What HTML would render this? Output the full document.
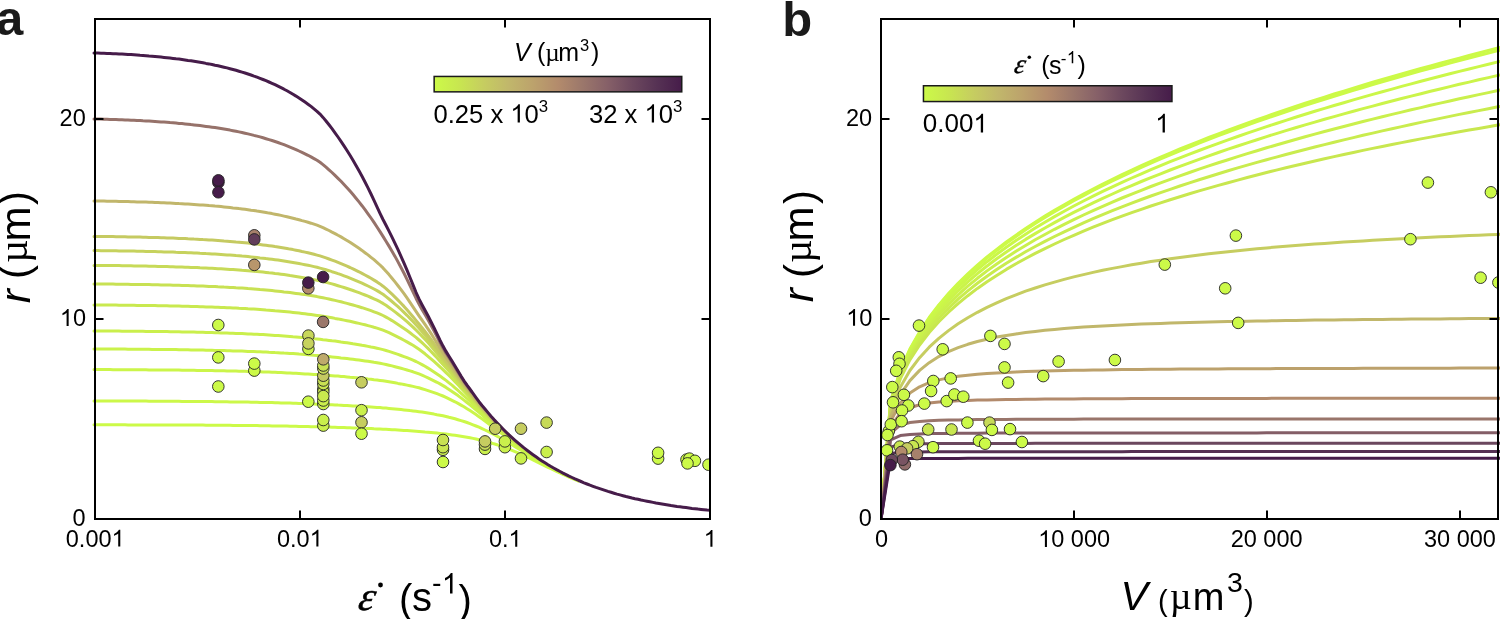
<!DOCTYPE html><html><head><meta charset="utf-8"><style>html,body{margin:0;padding:0;background:#fff;}svg{display:block}text{font-family:"Liberation Sans",sans-serif;}</style></head><body>
<svg width="1500" height="619" viewBox="0 0 1500 619">
<defs>
<clipPath id="ca"><rect x="95" y="19" width="615" height="500"/></clipPath>
<clipPath id="ca2"><rect x="92" y="19" width="618" height="500"/></clipPath>
<clipPath id="cb"><rect x="881" y="19" width="617" height="500"/></clipPath>
<clipPath id="cbc"><rect x="881" y="19" width="619" height="500"/></clipPath>
<linearGradient id="gr" x1="0" x2="1" y1="0" y2="0">
<stop offset="0.00" stop-color="#ccfa48"/>
<stop offset="0.10" stop-color="#c8e650"/>
<stop offset="0.20" stop-color="#c6cd60"/>
<stop offset="0.30" stop-color="#c1b76b"/>
<stop offset="0.40" stop-color="#bca26c"/>
<stop offset="0.50" stop-color="#b38b6c"/>
<stop offset="0.60" stop-color="#9b776b"/>
<stop offset="0.70" stop-color="#866068"/>
<stop offset="0.80" stop-color="#6c485e"/>
<stop offset="0.90" stop-color="#563254"/>
<stop offset="1.00" stop-color="#461c4a"/>
</linearGradient>
</defs>
<g clip-path="url(#ca2)" fill="none" stroke-width="3.00" stroke-linejoin="round" stroke-linecap="round">
<path d="M94.0,424.8 L95.0,424.8 L98.0,424.8 L101.0,424.8 L104.0,424.8 L107.0,424.8 L110.0,424.8 L113.0,424.8 L116.0,424.8 L119.0,424.8 L122.0,424.8 L125.0,424.8 L128.0,424.9 L131.0,424.9 L134.0,424.9 L137.0,424.9 L140.0,424.9 L143.0,424.9 L146.0,424.9 L149.0,424.9 L152.0,424.9 L155.0,424.9 L158.0,424.9 L161.0,424.9 L164.0,425.0 L167.0,425.0 L170.0,425.0 L173.0,425.0 L176.0,425.0 L179.0,425.0 L182.0,425.0 L185.0,425.0 L188.0,425.1 L191.0,425.1 L194.0,425.1 L197.0,425.1 L200.0,425.1 L203.0,425.1 L206.0,425.2 L209.0,425.2 L212.0,425.2 L215.0,425.2 L218.0,425.2 L221.0,425.3 L224.0,425.3 L227.0,425.3 L230.0,425.3 L233.0,425.4 L236.0,425.4 L239.0,425.4 L242.0,425.5 L245.0,425.5 L248.0,425.5 L251.0,425.6 L254.0,425.6 L257.0,425.6 L260.0,425.7 L263.0,425.7 L266.0,425.8 L269.0,425.8 L272.0,425.9 L275.0,425.9 L278.0,426.0 L281.0,426.0 L284.0,426.1 L287.0,426.1 L290.0,426.2 L293.0,426.2 L296.0,426.3 L299.0,426.4 L302.0,426.4 L305.0,426.5 L308.0,426.6 L311.0,426.7 L314.0,426.7 L317.0,426.8 L320.0,426.9 L323.0,427.0 L326.0,427.1 L329.0,427.1 L332.0,427.2 L335.0,427.3 L338.0,427.4 L341.0,427.5 L344.0,427.6 L347.0,427.7 L350.0,427.8 L353.0,427.9 L356.0,428.0 L359.0,428.1 L362.0,428.2 L365.0,428.4 L368.0,428.5 L371.0,428.6 L374.0,428.8 L377.0,428.9 L380.0,429.0 L383.0,429.2 L386.0,429.3 L389.0,429.5 L392.0,429.7 L395.0,429.8 L398.0,430.0 L401.0,430.2 L404.0,430.4 L407.0,430.6 L410.0,430.8 L413.0,431.0 L416.0,431.2 L419.0,431.4 L422.0,431.7 L425.0,432.0 L428.0,432.2 L431.0,432.5 L434.0,432.8 L437.0,433.1 L440.0,433.4 L443.0,433.7 L446.0,434.1 L449.0,434.5 L452.0,434.9 L455.0,435.3 L458.0,435.7 L461.0,436.2 L464.0,436.7 L467.0,437.2 L470.0,437.8 L473.0,438.4 L476.0,439.0 L479.0,439.7 L482.0,440.4 L485.0,441.2 L488.0,442.0 L491.0,442.8 L494.0,443.8 L497.0,444.7 L500.0,445.8 L503.0,446.8 L506.0,447.9 L509.0,449.1 L512.0,450.3 L515.0,451.6 L518.0,452.9 L521.0,454.3 L524.0,455.7 L527.0,457.1 L530.0,458.5 L533.0,459.9 L536.0,461.4 L539.0,462.9 L542.0,464.4 L545.0,465.8 L548.0,467.3 L551.0,468.7 L554.0,470.2 L557.0,471.6 L560.0,473.0 L563.0,474.4 L566.0,475.7 L569.0,477.1 L572.0,478.3 L575.0,479.6 L578.0,480.8 L578.5,481.1" stroke="#ccfa48"/>
<path d="M94.0,401.0 L95.0,401.0 L98.0,401.0 L101.0,401.0 L104.0,401.0 L107.0,401.0 L110.0,401.0 L113.0,401.0 L116.0,401.0 L119.0,401.1 L122.0,401.1 L125.0,401.1 L128.0,401.1 L131.0,401.1 L134.0,401.1 L137.0,401.1 L140.0,401.1 L143.0,401.1 L146.0,401.1 L149.0,401.2 L152.0,401.2 L155.0,401.2 L158.0,401.2 L161.0,401.2 L164.0,401.2 L167.0,401.3 L170.0,401.3 L173.0,401.3 L176.0,401.3 L179.0,401.3 L182.0,401.4 L185.0,401.4 L188.0,401.4 L191.0,401.4 L194.0,401.4 L197.0,401.5 L200.0,401.5 L203.0,401.5 L206.0,401.6 L209.0,401.6 L212.0,401.6 L215.0,401.7 L218.0,401.7 L221.0,401.7 L224.0,401.8 L227.0,401.8 L230.0,401.9 L233.0,401.9 L236.0,401.9 L239.0,402.0 L242.0,402.0 L245.0,402.1 L248.0,402.1 L251.0,402.2 L254.0,402.3 L257.0,402.3 L260.0,402.4 L263.0,402.4 L266.0,402.5 L269.0,402.6 L272.0,402.6 L275.0,402.7 L278.0,402.8 L281.0,402.9 L284.0,403.0 L287.0,403.1 L290.0,403.1 L293.0,403.2 L296.0,403.3 L299.0,403.4 L302.0,403.6 L305.0,403.7 L308.0,403.8 L311.0,403.9 L314.0,404.0 L317.0,404.2 L320.0,404.3 L323.0,404.4 L326.0,404.5 L329.0,404.7 L332.0,404.8 L335.0,404.9 L338.0,405.1 L341.0,405.2 L344.0,405.4 L347.0,405.5 L350.0,405.7 L353.0,405.9 L356.0,406.0 L359.0,406.2 L362.0,406.4 L365.0,406.6 L368.0,406.8 L371.0,407.0 L374.0,407.2 L377.0,407.4 L380.0,407.6 L383.0,407.9 L386.0,408.1 L389.0,408.4 L392.0,408.7 L395.0,409.0 L398.0,409.3 L401.0,409.6 L404.0,409.9 L407.0,410.2 L410.0,410.6 L413.0,410.9 L416.0,411.3 L419.0,411.7 L422.0,412.1 L425.0,412.6 L428.0,413.1 L431.0,413.6 L434.0,414.1 L437.0,414.7 L440.0,415.2 L443.0,415.8 L446.0,416.5 L449.0,417.3 L452.0,418.0 L455.0,418.8 L458.0,419.7 L461.0,420.6 L464.0,421.5 L467.0,422.5 L470.0,423.6 L473.0,424.8 L476.0,426.0 L479.0,427.2 L482.0,428.6 L485.0,430.0 L488.0,431.4 L491.0,432.9 L494.0,434.5 L497.0,436.1 L500.0,437.8 L503.0,439.5 L506.0,441.2 L509.0,443.0 L512.0,444.8 L515.0,446.6 L518.0,448.4 L521.0,450.2 L524.0,452.0 L527.0,453.9 L530.0,455.7 L533.0,457.4 L536.0,459.2 L539.0,461.0 L542.0,462.7 L545.0,464.4 L548.0,466.0 L551.0,467.6 L554.0,469.2 L557.0,470.8 L560.0,472.3 L563.0,473.8 L565.0,474.7" stroke="#ccf849"/>
<path d="M94.0,369.6 L95.0,369.6 L98.0,369.6 L101.0,369.6 L104.0,369.6 L107.0,369.6 L110.0,369.6 L113.0,369.7 L116.0,369.7 L119.0,369.7 L122.0,369.7 L125.0,369.7 L128.0,369.7 L131.0,369.7 L134.0,369.8 L137.0,369.8 L140.0,369.8 L143.0,369.8 L146.0,369.8 L149.0,369.9 L152.0,369.9 L155.0,369.9 L158.0,369.9 L161.0,370.0 L164.0,370.0 L167.0,370.0 L170.0,370.0 L173.0,370.1 L176.0,370.1 L179.0,370.1 L182.0,370.2 L185.0,370.2 L188.0,370.2 L191.0,370.3 L194.0,370.3 L197.0,370.4 L200.0,370.4 L203.0,370.5 L206.0,370.5 L209.0,370.5 L212.0,370.6 L215.0,370.7 L218.0,370.7 L221.0,370.8 L224.0,370.8 L227.0,370.9 L230.0,371.0 L233.0,371.0 L236.0,371.1 L239.0,371.2 L242.0,371.3 L245.0,371.3 L248.0,371.4 L251.0,371.5 L254.0,371.6 L257.0,371.7 L260.0,371.8 L263.0,371.9 L266.0,372.0 L269.0,372.1 L272.0,372.2 L275.0,372.3 L278.0,372.5 L281.0,372.6 L284.0,372.7 L287.0,372.9 L290.0,373.0 L293.0,373.2 L296.0,373.3 L299.0,373.5 L302.0,373.7 L305.0,373.9 L308.0,374.0 L311.0,374.2 L314.0,374.4 L317.0,374.6 L320.0,374.8 L323.0,375.1 L326.0,375.3 L329.0,375.5 L332.0,375.7 L335.0,375.9 L338.0,376.1 L341.0,376.4 L344.0,376.6 L347.0,376.9 L350.0,377.2 L353.0,377.4 L356.0,377.7 L359.0,378.0 L362.0,378.3 L365.0,378.6 L368.0,379.0 L371.0,379.3 L374.0,379.7 L377.0,380.0 L380.0,380.4 L383.0,380.8 L386.0,381.3 L389.0,381.8 L392.0,382.3 L395.0,382.8 L398.0,383.4 L401.0,383.9 L404.0,384.5 L407.0,385.1 L410.0,385.7 L413.0,386.4 L416.0,387.1 L419.0,387.8 L422.0,388.7 L425.0,389.6 L428.0,390.6 L431.0,391.6 L434.0,392.6 L437.0,393.7 L440.0,394.8 L443.0,396.0 L446.0,397.3 L449.0,398.8 L452.0,400.3 L455.0,401.8 L458.0,403.4 L461.0,405.1 L464.0,406.8 L467.0,408.7 L470.0,410.6 L473.0,412.6 L476.0,414.6 L479.0,416.7 L482.0,418.8 L485.0,421.0 L488.0,423.2 L491.0,425.5 L494.0,427.7 L497.0,430.0 L500.0,432.2 L503.0,434.5 L506.0,436.8 L509.0,439.1 L512.0,441.3 L515.0,443.5 L518.0,445.7 L521.0,447.9 L524.0,450.0 L527.0,452.1 L530.0,454.1 L533.0,456.1 L536.0,458.0 L539.0,459.9 L542.0,461.8 L545.0,463.6 L548.0,465.4 L551.0,467.1" stroke="#cbf54a"/>
<path d="M94.0,349.0 L95.0,349.0 L98.0,349.0 L101.0,349.0 L104.0,349.0 L107.0,349.0 L110.0,349.1 L113.0,349.1 L116.0,349.1 L119.0,349.1 L122.0,349.1 L125.0,349.1 L128.0,349.2 L131.0,349.2 L134.0,349.2 L137.0,349.2 L140.0,349.3 L143.0,349.3 L146.0,349.3 L149.0,349.3 L152.0,349.4 L155.0,349.4 L158.0,349.4 L161.0,349.5 L164.0,349.5 L167.0,349.5 L170.0,349.6 L173.0,349.6 L176.0,349.6 L179.0,349.7 L182.0,349.7 L185.0,349.8 L188.0,349.8 L191.0,349.9 L194.0,349.9 L197.0,350.0 L200.0,350.0 L203.0,350.1 L206.0,350.2 L209.0,350.2 L212.0,350.3 L215.0,350.4 L218.0,350.4 L221.0,350.5 L224.0,350.6 L227.0,350.7 L230.0,350.8 L233.0,350.9 L236.0,350.9 L239.0,351.0 L242.0,351.1 L245.0,351.2 L248.0,351.4 L251.0,351.5 L254.0,351.6 L257.0,351.7 L260.0,351.8 L263.0,352.0 L266.0,352.1 L269.0,352.3 L272.0,352.4 L275.0,352.6 L278.0,352.7 L281.0,352.9 L284.0,353.1 L287.0,353.2 L290.0,353.4 L293.0,353.6 L296.0,353.8 L299.0,354.1 L302.0,354.3 L305.0,354.5 L308.0,354.7 L311.0,355.0 L314.0,355.3 L317.0,355.5 L320.0,355.8 L323.0,356.1 L326.0,356.3 L329.0,356.6 L332.0,356.9 L335.0,357.2 L338.0,357.5 L341.0,357.9 L344.0,358.2 L347.0,358.5 L350.0,358.9 L353.0,359.3 L356.0,359.7 L359.0,360.1 L362.0,360.5 L365.0,360.9 L368.0,361.3 L371.0,361.8 L374.0,362.3 L377.0,362.7 L380.0,363.3 L383.0,363.9 L386.0,364.5 L389.0,365.2 L392.0,365.9 L395.0,366.7 L398.0,367.5 L401.0,368.3 L404.0,369.1 L407.0,370.0 L410.0,370.9 L413.0,371.8 L416.0,372.8 L419.0,373.9 L422.0,375.1 L425.0,376.5 L428.0,377.9 L431.0,379.3 L434.0,380.8 L437.0,382.3 L440.0,383.9 L443.0,385.6 L446.0,387.4 L449.0,389.4 L452.0,391.4 L455.0,393.5 L458.0,395.6 L461.0,397.9 L464.0,400.1 L467.0,402.5 L470.0,404.9 L473.0,407.3 L476.0,409.9 L479.0,412.4 L482.0,414.9 L485.0,417.5 L488.0,420.1 L491.0,422.7 L494.0,425.3 L497.0,427.8 L500.0,430.3 L503.0,432.8 L506.0,435.3 L509.0,437.8 L512.0,440.2 L515.0,442.5 L518.0,444.8 L521.0,447.1 L524.0,449.3 L527.0,451.5 L530.0,453.6 L533.0,455.7 L536.0,457.7 L539.0,459.6 L542.0,461.5 L543.0,462.1" stroke="#caf24b"/>
<path d="M94.0,331.0 L95.0,331.0 L98.0,331.0 L101.0,331.0 L104.0,331.0 L107.0,331.1 L110.0,331.1 L113.0,331.1 L116.0,331.1 L119.0,331.1 L122.0,331.2 L125.0,331.2 L128.0,331.2 L131.0,331.2 L134.0,331.3 L137.0,331.3 L140.0,331.3 L143.0,331.3 L146.0,331.4 L149.0,331.4 L152.0,331.4 L155.0,331.5 L158.0,331.5 L161.0,331.6 L164.0,331.6 L167.0,331.6 L170.0,331.7 L173.0,331.7 L176.0,331.8 L179.0,331.8 L182.0,331.9 L185.0,332.0 L188.0,332.0 L191.0,332.1 L194.0,332.1 L197.0,332.2 L200.0,332.3 L203.0,332.3 L206.0,332.4 L209.0,332.5 L212.0,332.6 L215.0,332.7 L218.0,332.8 L221.0,332.9 L224.0,333.0 L227.0,333.1 L230.0,333.2 L233.0,333.3 L236.0,333.4 L239.0,333.5 L242.0,333.6 L245.0,333.7 L248.0,333.9 L251.0,334.0 L254.0,334.2 L257.0,334.3 L260.0,334.5 L263.0,334.6 L266.0,334.8 L269.0,335.0 L272.0,335.2 L275.0,335.4 L278.0,335.6 L281.0,335.8 L284.0,336.0 L287.0,336.2 L290.0,336.4 L293.0,336.7 L296.0,336.9 L299.0,337.2 L302.0,337.5 L305.0,337.7 L308.0,338.0 L311.0,338.3 L314.0,338.7 L317.0,339.0 L320.0,339.3 L323.0,339.7 L326.0,340.0 L329.0,340.4 L332.0,340.8 L335.0,341.1 L338.0,341.5 L341.0,342.0 L344.0,342.4 L347.0,342.8 L350.0,343.3 L353.0,343.8 L356.0,344.2 L359.0,344.7 L362.0,345.3 L365.0,345.8 L368.0,346.4 L371.0,347.0 L374.0,347.5 L377.0,348.2 L380.0,348.9 L383.0,349.6 L386.0,350.5 L389.0,351.4 L392.0,352.4 L395.0,353.4 L398.0,354.4 L401.0,355.5 L404.0,356.6 L407.0,357.7 L410.0,358.9 L413.0,360.2 L416.0,361.5 L419.0,363.0 L422.0,364.6 L425.0,366.3 L428.0,368.1 L431.0,370.0 L434.0,371.9 L437.0,373.9 L440.0,376.0 L443.0,378.2 L446.0,380.4 L449.0,382.8 L452.0,385.2 L455.0,387.8 L458.0,390.4 L461.0,393.1 L464.0,395.8 L467.0,398.5 L470.0,401.2 L473.0,404.1 L476.0,406.9 L479.0,409.8 L482.0,412.6 L485.0,415.4 L488.0,418.2 L491.0,421.1 L494.0,423.8 L497.0,426.5 L500.0,429.2 L503.0,431.9 L506.0,434.5 L509.0,437.0 L512.0,439.5 L515.0,442.0 L518.0,444.4 L521.0,446.7 L524.0,449.0 L527.0,451.2 L530.0,453.3 L533.0,455.4 L536.0,457.5 L537.0,458.1" stroke="#caef4c"/>
<path d="M94.0,305.0 L95.0,305.0 L98.0,305.0 L101.0,305.0 L104.0,305.1 L107.0,305.1 L110.0,305.1 L113.0,305.1 L116.0,305.1 L119.0,305.2 L122.0,305.2 L125.0,305.2 L128.0,305.3 L131.0,305.3 L134.0,305.3 L137.0,305.4 L140.0,305.4 L143.0,305.4 L146.0,305.5 L149.0,305.5 L152.0,305.6 L155.0,305.6 L158.0,305.7 L161.0,305.7 L164.0,305.8 L167.0,305.8 L170.0,305.9 L173.0,306.0 L176.0,306.0 L179.0,306.1 L182.0,306.2 L185.0,306.2 L188.0,306.3 L191.0,306.4 L194.0,306.5 L197.0,306.6 L200.0,306.7 L203.0,306.8 L206.0,306.9 L209.0,307.0 L212.0,307.1 L215.0,307.2 L218.0,307.3 L221.0,307.4 L224.0,307.5 L227.0,307.7 L230.0,307.8 L233.0,307.9 L236.0,308.1 L239.0,308.3 L242.0,308.4 L245.0,308.6 L248.0,308.8 L251.0,308.9 L254.0,309.1 L257.0,309.3 L260.0,309.5 L263.0,309.7 L266.0,310.0 L269.0,310.2 L272.0,310.4 L275.0,310.7 L278.0,310.9 L281.0,311.2 L284.0,311.5 L287.0,311.8 L290.0,312.1 L293.0,312.4 L296.0,312.7 L299.0,313.0 L302.0,313.4 L305.0,313.8 L308.0,314.2 L311.0,314.6 L314.0,315.0 L317.0,315.4 L320.0,315.8 L323.0,316.3 L326.0,316.8 L329.0,317.3 L332.0,317.8 L335.0,318.4 L338.0,318.9 L341.0,319.5 L344.0,320.1 L347.0,320.7 L350.0,321.3 L353.0,322.0 L356.0,322.7 L359.0,323.4 L362.0,324.1 L365.0,324.8 L368.0,325.6 L371.0,326.4 L374.0,327.3 L377.0,328.1 L380.0,329.1 L383.0,330.2 L386.0,331.4 L389.0,332.7 L392.0,334.1 L395.0,335.6 L398.0,337.1 L401.0,338.6 L404.0,340.2 L407.0,341.9 L410.0,343.6 L413.0,345.3 L416.0,347.2 L419.0,349.3 L422.0,351.5 L425.0,353.8 L428.0,356.3 L431.0,358.8 L434.0,361.4 L437.0,364.1 L440.0,366.9 L443.0,369.7 L446.0,372.6 L449.0,375.5 L452.0,378.5 L455.0,381.6 L458.0,384.8 L461.0,388.1 L464.0,391.3 L467.0,394.4 L470.0,397.6 L473.0,400.8 L476.0,404.0 L479.0,407.3 L482.0,410.4 L485.0,413.4 L488.0,416.4 L491.0,419.5 L494.0,422.5 L497.0,425.3 L500.0,428.1 L503.0,431.0 L506.0,433.7 L509.0,436.3 L512.0,438.9 L515.0,441.5 L518.0,443.9 L521.0,446.3 L524.0,448.6 L527.0,450.9 L528.5,452.0" stroke="#c9e94f"/>
<path d="M94.0,284.0 L95.0,284.0 L98.0,284.0 L101.0,284.0 L104.0,284.1 L107.0,284.1 L110.0,284.1 L113.0,284.1 L116.0,284.2 L119.0,284.2 L122.0,284.2 L125.0,284.3 L128.0,284.3 L131.0,284.4 L134.0,284.4 L137.0,284.4 L140.0,284.5 L143.0,284.5 L146.0,284.6 L149.0,284.6 L152.0,284.7 L155.0,284.8 L158.0,284.8 L161.0,284.9 L164.0,284.9 L167.0,285.0 L170.0,285.1 L173.0,285.2 L176.0,285.2 L179.0,285.3 L182.0,285.4 L185.0,285.5 L188.0,285.6 L191.0,285.7 L194.0,285.8 L197.0,285.9 L200.0,286.0 L203.0,286.1 L206.0,286.2 L209.0,286.4 L212.0,286.5 L215.0,286.6 L218.0,286.8 L221.0,286.9 L224.0,287.1 L227.0,287.2 L230.0,287.4 L233.0,287.6 L236.0,287.8 L239.0,287.9 L242.0,288.1 L245.0,288.3 L248.0,288.6 L251.0,288.8 L254.0,289.0 L257.0,289.2 L260.0,289.5 L263.0,289.7 L266.0,290.0 L269.0,290.3 L272.0,290.6 L275.0,290.9 L278.0,291.2 L281.0,291.5 L284.0,291.9 L287.0,292.2 L290.0,292.6 L293.0,293.0 L296.0,293.4 L299.0,293.8 L302.0,294.2 L305.0,294.6 L308.0,295.1 L311.0,295.6 L314.0,296.1 L317.0,296.6 L320.0,297.2 L323.0,297.8 L326.0,298.4 L329.0,299.0 L332.0,299.7 L335.0,300.4 L338.0,301.1 L341.0,301.8 L344.0,302.6 L347.0,303.4 L350.0,304.2 L353.0,305.0 L356.0,305.9 L359.0,306.8 L362.0,307.7 L365.0,308.7 L368.0,309.7 L371.0,310.7 L374.0,311.8 L377.0,312.9 L380.0,314.1 L383.0,315.5 L386.0,317.1 L389.0,318.8 L392.0,320.6 L395.0,322.5 L398.0,324.4 L401.0,326.4 L404.0,328.5 L407.0,330.6 L410.0,332.8 L413.0,335.1 L416.0,337.4 L419.0,340.0 L422.0,342.7 L425.0,345.5 L428.0,348.4 L431.0,351.5 L434.0,354.6 L437.0,357.8 L440.0,361.2 L443.0,364.5 L446.0,367.8 L449.0,371.1 L452.0,374.5 L455.0,378.0 L458.0,381.6 L461.0,385.2 L464.0,388.8 L467.0,392.2 L470.0,395.5 L473.0,398.9 L476.0,402.4 L479.0,405.9 L482.0,409.1 L485.0,412.3 L488.0,415.5 L491.0,418.7 L494.0,421.8 L497.0,424.7 L500.0,427.6 L503.0,430.5 L506.0,433.3 L509.0,436.0 L512.0,438.6 L515.0,441.2 L518.0,443.7 L521.0,446.1 L522.5,447.3" stroke="#c8e153"/>
<path d="M94.0,265.4 L95.0,265.4 L98.0,265.4 L101.0,265.4 L104.0,265.5 L107.0,265.5 L110.0,265.5 L113.0,265.6 L116.0,265.6 L119.0,265.6 L122.0,265.7 L125.0,265.7 L128.0,265.8 L131.0,265.8 L134.0,265.9 L137.0,265.9 L140.0,266.0 L143.0,266.0 L146.0,266.1 L149.0,266.2 L152.0,266.2 L155.0,266.3 L158.0,266.4 L161.0,266.4 L164.0,266.5 L167.0,266.6 L170.0,266.7 L173.0,266.8 L176.0,266.9 L179.0,267.0 L182.0,267.1 L185.0,267.2 L188.0,267.3 L191.0,267.4 L194.0,267.5 L197.0,267.6 L200.0,267.8 L203.0,267.9 L206.0,268.0 L209.0,268.2 L212.0,268.3 L215.0,268.5 L218.0,268.7 L221.0,268.8 L224.0,269.0 L227.0,269.2 L230.0,269.4 L233.0,269.6 L236.0,269.8 L239.0,270.0 L242.0,270.3 L245.0,270.5 L248.0,270.7 L251.0,271.0 L254.0,271.3 L257.0,271.5 L260.0,271.8 L263.0,272.1 L266.0,272.4 L269.0,272.8 L272.0,273.1 L275.0,273.5 L278.0,273.8 L281.0,274.2 L284.0,274.6 L287.0,275.0 L290.0,275.5 L293.0,275.9 L296.0,276.4 L299.0,276.9 L302.0,277.4 L305.0,277.9 L308.0,278.4 L311.0,279.0 L314.0,279.6 L317.0,280.2 L320.0,280.9 L323.0,281.6 L326.0,282.3 L329.0,283.1 L332.0,283.9 L335.0,284.8 L338.0,285.7 L341.0,286.6 L344.0,287.5 L347.0,288.5 L350.0,289.5 L353.0,290.5 L356.0,291.6 L359.0,292.7 L362.0,293.8 L365.0,295.0 L368.0,296.2 L371.0,297.5 L374.0,298.8 L377.0,300.2 L380.0,301.7 L383.0,303.4 L386.0,305.3 L389.0,307.4 L392.0,309.6 L395.0,311.9 L398.0,314.2 L401.0,316.6 L404.0,319.1 L407.0,321.7 L410.0,324.4 L413.0,327.1 L416.0,330.0 L419.0,333.0 L422.0,336.1 L425.0,339.3 L428.0,342.6 L431.0,346.1 L434.0,349.7 L437.0,353.4 L440.0,357.1 L443.0,360.9 L446.0,364.5 L449.0,368.1 L452.0,371.8 L455.0,375.5 L458.0,379.4 L461.0,383.3 L464.0,387.1 L467.0,390.7 L470.0,394.2 L473.0,397.7 L476.0,401.4 L479.0,405.0 L482.0,408.3 L485.0,411.6 L488.0,414.8 L491.0,418.1 L494.0,421.3 L497.0,424.3 L500.0,427.2 L503.0,430.2 L506.0,433.0 L509.0,435.7 L512.0,438.4 L515.0,441.0 L517.0,442.7" stroke="#c7da58"/>
<path d="M94.0,250.6 L95.0,250.6 L98.0,250.6 L101.0,250.7 L104.0,250.7 L107.0,250.7 L110.0,250.8 L113.0,250.8 L116.0,250.8 L119.0,250.9 L122.0,250.9 L125.0,251.0 L128.0,251.0 L131.0,251.1 L134.0,251.1 L137.0,251.2 L140.0,251.2 L143.0,251.3 L146.0,251.4 L149.0,251.5 L152.0,251.5 L155.0,251.6 L158.0,251.7 L161.0,251.8 L164.0,251.9 L167.0,251.9 L170.0,252.0 L173.0,252.1 L176.0,252.3 L179.0,252.4 L182.0,252.5 L185.0,252.6 L188.0,252.7 L191.0,252.8 L194.0,253.0 L197.0,253.1 L200.0,253.3 L203.0,253.4 L206.0,253.6 L209.0,253.7 L212.0,253.9 L215.0,254.1 L218.0,254.3 L221.0,254.5 L224.0,254.7 L227.0,254.9 L230.0,255.1 L233.0,255.3 L236.0,255.6 L239.0,255.8 L242.0,256.1 L245.0,256.3 L248.0,256.6 L251.0,256.9 L254.0,257.2 L257.0,257.5 L260.0,257.9 L263.0,258.2 L266.0,258.6 L269.0,258.9 L272.0,259.3 L275.0,259.7 L278.0,260.1 L281.0,260.5 L284.0,261.0 L287.0,261.5 L290.0,262.0 L293.0,262.5 L296.0,263.0 L299.0,263.5 L302.0,264.1 L305.0,264.7 L308.0,265.3 L311.0,265.9 L314.0,266.6 L317.0,267.3 L320.0,268.1 L323.0,268.9 L326.0,269.8 L329.0,270.7 L332.0,271.7 L335.0,272.6 L338.0,273.7 L341.0,274.7 L344.0,275.8 L347.0,276.9 L350.0,278.1 L353.0,279.3 L356.0,280.6 L359.0,281.9 L362.0,283.2 L365.0,284.6 L368.0,286.0 L371.0,287.5 L374.0,289.0 L377.0,290.6 L380.0,292.4 L383.0,294.3 L386.0,296.6 L389.0,299.0 L392.0,301.5 L395.0,304.1 L398.0,306.7 L401.0,309.5 L404.0,312.4 L407.0,315.3 L410.0,318.4 L413.0,321.5 L416.0,324.8 L419.0,328.1 L422.0,331.6 L425.0,335.1 L428.0,338.7 L431.0,342.5 L434.0,346.3 L437.0,350.4 L440.0,354.5 L443.0,358.5 L446.0,362.4 L449.0,366.2 L452.0,370.0 L455.0,373.9 L458.0,378.0 L461.0,382.1 L464.0,386.0 L467.0,389.7 L470.0,393.3 L473.0,397.0 L476.0,400.7 L479.0,404.4 L482.0,407.8 L485.0,411.1 L488.0,414.5 L491.0,417.8 L494.0,421.0 L497.0,424.0 L500.0,427.0 L503.0,430.0 L506.0,432.8 L509.0,435.6 L512.0,438.3 L513.0,439.1" stroke="#c6d25d"/>
<path d="M94.0,236.4 L95.0,236.4 L98.0,236.4 L101.0,236.5 L104.0,236.5 L107.0,236.5 L110.0,236.6 L113.0,236.6 L116.0,236.7 L119.0,236.7 L122.0,236.8 L125.0,236.8 L128.0,236.9 L131.0,236.9 L134.0,237.0 L137.0,237.1 L140.0,237.1 L143.0,237.2 L146.0,237.3 L149.0,237.4 L152.0,237.4 L155.0,237.5 L158.0,237.6 L161.0,237.7 L164.0,237.8 L167.0,237.9 L170.0,238.0 L173.0,238.1 L176.0,238.2 L179.0,238.4 L182.0,238.5 L185.0,238.6 L188.0,238.8 L191.0,238.9 L194.0,239.1 L197.0,239.2 L200.0,239.4 L203.0,239.6 L206.0,239.7 L209.0,239.9 L212.0,240.1 L215.0,240.3 L218.0,240.5 L221.0,240.7 L224.0,241.0 L227.0,241.2 L230.0,241.4 L233.0,241.7 L236.0,242.0 L239.0,242.2 L242.0,242.5 L245.0,242.8 L248.0,243.1 L251.0,243.5 L254.0,243.8 L257.0,244.1 L260.0,244.5 L263.0,244.9 L266.0,245.3 L269.0,245.7 L272.0,246.1 L275.0,246.6 L278.0,247.0 L281.0,247.5 L284.0,248.0 L287.0,248.5 L290.0,249.1 L293.0,249.6 L296.0,250.2 L299.0,250.8 L302.0,251.5 L305.0,252.1 L308.0,252.8 L311.0,253.5 L314.0,254.3 L317.0,255.1 L320.0,255.9 L323.0,256.9 L326.0,257.9 L329.0,259.0 L332.0,260.1 L335.0,261.2 L338.0,262.4 L341.0,263.6 L344.0,264.9 L347.0,266.2 L350.0,267.5 L353.0,268.9 L356.0,270.3 L359.0,271.8 L362.0,273.4 L365.0,275.0 L368.0,276.6 L371.0,278.3 L374.0,280.1 L377.0,281.9 L380.0,283.9 L383.0,286.2 L386.0,288.7 L389.0,291.4 L392.0,294.2 L395.0,297.1 L398.0,300.1 L401.0,303.2 L404.0,306.4 L407.0,309.8 L410.0,313.2 L413.0,316.7 L416.0,320.4 L419.0,324.0 L422.0,327.7 L425.0,331.5 L428.0,335.4 L431.0,339.4 L434.0,343.6 L437.0,347.9 L440.0,352.3 L443.0,356.6 L446.0,360.7 L449.0,364.6 L452.0,368.6 L455.0,372.7 L458.0,376.9 L461.0,381.1 L464.0,385.2 L467.0,389.0 L470.0,392.6 L473.0,396.4 L476.0,400.2 L479.0,404.0 L482.0,407.5 L485.0,410.8 L488.0,414.2 L491.0,417.5 L494.0,420.8 L497.0,423.8 L500.0,426.8 L503.0,429.8 L506.0,432.7 L509.0,435.5" stroke="#c5ca61"/>
<path d="M94.0,201.0 L95.0,201.0 L98.0,201.0 L101.0,201.1 L104.0,201.1 L107.0,201.2 L110.0,201.2 L113.0,201.3 L116.0,201.3 L119.0,201.4 L122.0,201.5 L125.0,201.5 L128.0,201.6 L131.0,201.7 L134.0,201.8 L137.0,201.9 L140.0,201.9 L143.0,202.0 L146.0,202.1 L149.0,202.2 L152.0,202.3 L155.0,202.5 L158.0,202.6 L161.0,202.7 L164.0,202.8 L167.0,203.0 L170.0,203.1 L173.0,203.2 L176.0,203.4 L179.0,203.6 L182.0,203.7 L185.0,203.9 L188.0,204.1 L191.0,204.3 L194.0,204.5 L197.0,204.7 L200.0,204.9 L203.0,205.1 L206.0,205.3 L209.0,205.6 L212.0,205.8 L215.0,206.1 L218.0,206.3 L221.0,206.6 L224.0,206.9 L227.0,207.2 L230.0,207.5 L233.0,207.9 L236.0,208.2 L239.0,208.6 L242.0,208.9 L245.0,209.3 L248.0,209.7 L251.0,210.2 L254.0,210.6 L257.0,211.1 L260.0,211.5 L263.0,212.0 L266.0,212.5 L269.0,213.1 L272.0,213.6 L275.0,214.2 L278.0,214.8 L281.0,215.4 L284.0,216.1 L287.0,216.8 L290.0,217.5 L293.0,218.2 L296.0,219.0 L299.0,219.7 L302.0,220.6 L305.0,221.4 L308.0,222.3 L311.0,223.2 L314.0,224.2 L317.0,225.2 L320.0,226.4 L323.0,227.7 L326.0,229.1 L329.0,230.5 L332.0,232.1 L335.0,233.6 L338.0,235.3 L341.0,236.9 L344.0,238.7 L347.0,240.5 L350.0,242.3 L353.0,244.3 L356.0,246.3 L359.0,248.3 L362.0,250.4 L365.0,252.7 L368.0,254.9 L371.0,257.3 L374.0,259.7 L377.0,262.3 L380.0,265.0 L383.0,267.9 L386.0,271.2 L389.0,274.6 L392.0,278.2 L395.0,281.9 L398.0,285.7 L401.0,289.6 L404.0,293.7 L407.0,297.9 L410.0,302.3 L413.0,306.8 L416.0,311.4 L419.0,315.8 L422.0,320.1 L425.0,324.4 L428.0,328.8 L431.0,333.4 L434.0,338.2 L437.0,343.1 L440.0,348.1 L443.0,352.9 L446.0,357.4 L449.0,361.6 L452.0,365.9 L455.0,370.3 L458.0,374.8 L461.0,379.3 L464.0,383.6 L467.0,387.6 L470.0,391.4 L473.0,395.3 L476.0,399.3 L479.0,403.1 L482.0,406.7 L485.0,410.2 L488.0,413.6 L491.0,417.1 L494.0,420.4 L497.0,423.5 L499.5,426.0" stroke="#c1b66b"/>
<path d="M94.0,119.0 L95.0,119.0 L98.0,119.1 L101.0,119.1 L104.0,119.2 L107.0,119.3 L110.0,119.4 L113.0,119.5 L116.0,119.6 L119.0,119.7 L122.0,119.8 L125.0,119.9 L128.0,120.0 L131.0,120.2 L134.0,120.3 L137.0,120.5 L140.0,120.6 L143.0,120.8 L146.0,120.9 L149.0,121.1 L152.0,121.3 L155.0,121.5 L158.0,121.7 L161.0,121.9 L164.0,122.1 L167.0,122.3 L170.0,122.6 L173.0,122.8 L176.0,123.1 L179.0,123.4 L182.0,123.6 L185.0,123.9 L188.0,124.2 L191.0,124.6 L194.0,124.9 L197.0,125.2 L200.0,125.6 L203.0,126.0 L206.0,126.4 L209.0,126.8 L212.0,127.2 L215.0,127.6 L218.0,128.1 L221.0,128.6 L224.0,129.1 L227.0,129.6 L230.0,130.1 L233.0,130.7 L236.0,131.3 L239.0,131.9 L242.0,132.5 L245.0,133.2 L248.0,133.9 L251.0,134.6 L254.0,135.4 L257.0,136.1 L260.0,136.9 L263.0,137.8 L266.0,138.7 L269.0,139.6 L272.0,140.5 L275.0,141.5 L278.0,142.5 L281.0,143.6 L284.0,144.7 L287.0,145.9 L290.0,147.1 L293.0,148.3 L296.0,149.6 L299.0,151.0 L302.0,152.4 L305.0,153.8 L308.0,155.3 L311.0,156.9 L314.0,158.6 L317.0,160.3 L320.0,162.3 L323.0,164.6 L326.0,167.1 L329.0,169.8 L332.0,172.5 L335.0,175.4 L338.0,178.3 L341.0,181.3 L344.0,184.5 L347.0,187.7 L350.0,191.1 L353.0,194.6 L356.0,198.2 L359.0,201.9 L362.0,205.7 L365.0,209.7 L368.0,213.8 L371.0,218.0 L374.0,222.4 L377.0,227.0 L380.0,231.6 L383.0,236.4 L386.0,241.2 L389.0,246.1 L392.0,251.2 L395.0,256.4 L398.0,261.9 L401.0,267.5 L404.0,273.3 L407.0,279.3 L410.0,285.5 L413.0,291.9 L416.0,298.2 L419.0,304.1 L422.0,309.4 L425.0,314.5 L428.0,319.8 L431.0,325.2 L434.0,330.8 L437.0,336.6 L440.0,342.5 L443.0,348.1 L446.0,353.2 L449.0,357.8 L452.0,362.4 L455.0,367.2 L458.0,372.1 L461.0,377.0 L464.0,381.6 L467.0,385.8 L470.0,389.8 L471.5,391.9" stroke="#96726a"/>
<path d="M94.0,53.0 L95.0,53.0 L98.0,53.1 L101.0,53.2 L104.0,53.3 L107.0,53.4 L110.0,53.5 L113.0,53.7 L116.0,53.8 L119.0,54.0 L122.0,54.1 L125.0,54.3 L128.0,54.5 L131.0,54.6 L134.0,54.8 L137.0,55.0 L140.0,55.3 L143.0,55.5 L146.0,55.7 L149.0,56.0 L152.0,56.2 L155.0,56.5 L158.0,56.8 L161.0,57.1 L164.0,57.4 L167.0,57.7 L170.0,58.0 L173.0,58.4 L176.0,58.8 L179.0,59.1 L182.0,59.5 L185.0,59.9 L188.0,60.4 L191.0,60.8 L194.0,61.3 L197.0,61.8 L200.0,62.3 L203.0,62.8 L206.0,63.4 L209.0,63.9 L212.0,64.5 L215.0,65.2 L218.0,65.8 L221.0,66.5 L224.0,67.2 L227.0,67.9 L230.0,68.7 L233.0,69.5 L236.0,70.3 L239.0,71.2 L242.0,72.1 L245.0,73.0 L248.0,74.0 L251.0,75.0 L254.0,76.1 L257.0,77.1 L260.0,78.3 L263.0,79.5 L266.0,80.7 L269.0,82.0 L272.0,83.3 L275.0,84.7 L278.0,86.2 L281.0,87.7 L284.0,89.2 L287.0,90.8 L290.0,92.5 L293.0,94.3 L296.0,96.1 L299.0,98.0 L302.0,100.0 L305.0,102.1 L308.0,104.2 L311.0,106.4 L314.0,108.8 L317.0,111.3 L320.0,114.1 L323.0,117.4 L326.0,121.0 L329.0,124.8 L332.0,128.7 L335.0,132.8 L338.0,137.0 L341.0,141.3 L344.0,145.8 L347.0,150.5 L350.0,155.3 L353.0,160.3 L356.0,165.5 L359.0,170.8 L362.0,176.3 L365.0,182.0 L368.0,187.9 L371.0,194.0 L374.0,200.3 L377.0,206.8 L380.0,213.3 L383.0,219.5 L386.0,225.3 L389.0,231.1 L392.0,237.1 L395.0,243.3 L398.0,249.7 L401.0,256.3 L404.0,263.1 L407.0,270.2 L410.0,277.5 L413.0,284.9 L416.0,292.3 L419.0,298.9 L422.0,304.7 L425.0,310.2 L428.0,315.8 L431.0,321.7 L434.0,327.7 L437.0,333.9 L440.0,340.2 L443.0,346.1 L446.0,351.4 L449.0,356.2 L452.0,361.0 L455.0,366.0 L458.0,371.0 L461.0,376.1 L464.0,380.8 L467.0,385.1 L470.0,389.2 L473.0,393.4 L476.0,397.6 L479.0,401.7 L482.0,405.5 L485.0,409.0 L488.0,412.6 L491.0,416.2 L494.0,419.6 L497.0,422.8 L500.0,425.9 L503.0,429.0 L506.0,432.0 L509.0,434.9 L512.0,437.6 L515.0,440.3 L518.0,442.9 L521.0,445.4 L524.0,447.9 L527.0,450.2 L530.0,452.5 L533.0,454.7 L536.0,456.8 L539.0,458.9 L542.0,460.9 L545.0,462.8 L548.0,464.7 L551.0,466.5 L554.0,468.2 L557.0,469.9 L560.0,471.5 L563.0,473.1 L566.0,474.6 L569.0,476.1 L572.0,477.5 L575.0,478.9 L578.0,480.2 L581.0,481.5 L584.0,482.8 L587.0,484.0 L590.0,485.2 L593.0,486.3 L596.0,487.4 L599.0,488.4 L602.0,489.4 L605.0,490.4 L608.0,491.4 L611.0,492.3 L614.0,493.2 L617.0,494.1 L620.0,494.9 L623.0,495.7 L626.0,496.5 L629.0,497.2 L632.0,498.0 L635.0,498.7 L638.0,499.3 L641.0,500.0 L644.0,500.6 L647.0,501.2 L650.0,501.8 L653.0,502.4 L656.0,503.0 L659.0,503.5 L662.0,504.0 L665.0,504.5 L668.0,505.0 L671.0,505.5 L674.0,505.9 L677.0,506.4 L680.0,506.8 L683.0,507.2 L686.0,507.6 L689.0,508.0 L692.0,508.4 L695.0,508.7 L698.0,509.1 L701.0,509.4 L704.0,509.7 L707.0,510.0 L710.0,510.2" stroke="#461c4a"/>
</g>
<g clip-path="url(#cbc)" fill="none" stroke-width="3.00" stroke-linejoin="round">
<path d="M881.0,519.0 L890.6,401.1 L900.3,370.5 L909.9,349.0 L919.6,332.0 L929.2,317.5 L938.8,304.9 L948.5,293.6 L958.1,283.4 L967.8,273.9 L977.4,265.2 L987.0,257.0 L996.7,249.3 L1006.3,242.0 L1016.0,235.1 L1025.6,228.5 L1035.2,222.2 L1044.9,216.1 L1054.5,210.3 L1064.2,204.7 L1073.8,199.3 L1083.5,194.0 L1093.1,189.0 L1102.7,184.0 L1112.4,179.3 L1122.0,174.6 L1131.7,170.1 L1141.3,165.7 L1150.9,161.4 L1160.6,157.2 L1170.2,153.1 L1179.9,149.0 L1189.5,145.1 L1199.1,141.3 L1208.8,137.5 L1218.4,133.8 L1228.1,130.1 L1237.7,126.6 L1247.3,123.1 L1257.0,119.6 L1266.6,116.3 L1276.3,112.9 L1285.9,109.7 L1295.5,106.4 L1305.2,103.3 L1314.8,100.2 L1324.5,97.1 L1334.1,94.0 L1343.8,91.1 L1353.4,88.1 L1363.0,85.2 L1372.7,82.3 L1382.3,79.5 L1392.0,76.7 L1401.6,73.9 L1411.2,71.2 L1420.9,68.5 L1430.5,65.9 L1440.2,63.2 L1449.8,60.6 L1459.4,58.1 L1469.1,55.5 L1478.7,53.0 L1488.4,50.5 L1498.0,48.0 L1507.6,45.6 L1517.3,43.2" stroke="#ccfa48"/>
<path d="M881.0,519.0 L890.6,401.6 L900.3,371.1 L909.9,349.7 L919.6,332.7 L929.2,318.3 L938.8,305.8 L948.5,294.6 L958.1,284.4 L967.8,275.0 L977.4,266.3 L987.0,258.1 L996.7,250.5 L1006.3,243.2 L1016.0,236.4 L1025.6,229.8 L1035.2,223.5 L1044.9,217.5 L1054.5,211.7 L1064.2,206.1 L1073.8,200.8 L1083.5,195.6 L1093.1,190.5 L1102.7,185.6 L1112.4,180.9 L1122.0,176.3 L1131.7,171.8 L1141.3,167.4 L1150.9,163.1 L1160.6,158.9 L1170.2,154.8 L1179.9,150.9 L1189.5,147.0 L1199.1,143.1 L1208.8,139.4 L1218.4,135.7 L1228.1,132.1 L1237.7,128.6 L1247.3,125.1 L1257.0,121.7 L1266.6,118.3 L1276.3,115.0 L1285.9,111.8 L1295.5,108.6 L1305.2,105.4 L1314.8,102.3 L1324.5,99.3 L1334.1,96.3 L1343.8,93.3 L1353.4,90.4 L1363.0,87.5 L1372.7,84.6 L1382.3,81.8 L1392.0,79.1 L1401.6,76.3 L1411.2,73.6 L1420.9,70.9 L1430.5,68.3 L1440.2,65.7 L1449.8,63.1 L1459.4,60.5 L1469.1,58.0 L1478.7,55.5 L1488.4,53.1 L1498.0,50.6 L1507.6,48.2 L1517.3,45.8" stroke="#ccfa48"/>
<path d="M881.0,519.0 L890.6,402.3 L900.3,372.2 L909.9,351.2 L919.6,334.5 L929.2,320.4 L938.8,308.2 L948.5,297.2 L958.1,287.2 L967.8,278.1 L977.4,269.6 L987.0,261.7 L996.7,254.2 L1006.3,247.2 L1016.0,240.5 L1025.6,234.2 L1035.2,228.1 L1044.9,222.2 L1054.5,216.6 L1064.2,211.2 L1073.8,206.0 L1083.5,201.0 L1093.1,196.1 L1102.7,191.4 L1112.4,186.8 L1122.0,182.4 L1131.7,178.0 L1141.3,173.8 L1150.9,169.7 L1160.6,165.7 L1170.2,161.7 L1179.9,157.9 L1189.5,154.1 L1199.1,150.5 L1208.8,146.9 L1218.4,143.3 L1228.1,139.9 L1237.7,136.5 L1247.3,133.1 L1257.0,129.9 L1266.6,126.6 L1276.3,123.5 L1285.9,120.4 L1295.5,117.3 L1305.2,114.3 L1314.8,111.3 L1324.5,108.4 L1334.1,105.5 L1343.8,102.7 L1353.4,99.9 L1363.0,97.1 L1372.7,94.4 L1382.3,91.7 L1392.0,89.1 L1401.6,86.4 L1411.2,83.9 L1420.9,81.3 L1430.5,78.8 L1440.2,76.3 L1449.8,73.8 L1459.4,71.4 L1469.1,69.0 L1478.7,66.6 L1488.4,64.3 L1498.0,61.9 L1507.6,59.6 L1517.3,57.4" stroke="#cbf749"/>
<path d="M881.0,519.0 L890.6,403.2 L900.3,373.7 L909.9,353.1 L919.6,336.7 L929.2,323.0 L938.8,311.1 L948.5,300.4 L958.1,290.8 L967.8,281.9 L977.4,273.7 L987.0,266.0 L996.7,258.8 L1006.3,252.0 L1016.0,245.6 L1025.6,239.4 L1035.2,233.6 L1044.9,228.0 L1054.5,222.6 L1064.2,217.4 L1073.8,212.4 L1083.5,207.6 L1093.1,202.9 L1102.7,198.4 L1112.4,194.0 L1122.0,189.7 L1131.7,185.6 L1141.3,181.5 L1150.9,177.6 L1160.6,173.8 L1170.2,170.0 L1179.9,166.4 L1189.5,162.8 L1199.1,159.3 L1208.8,155.8 L1218.4,152.5 L1228.1,149.2 L1237.7,146.0 L1247.3,142.8 L1257.0,139.7 L1266.6,136.6 L1276.3,133.6 L1285.9,130.6 L1295.5,127.7 L1305.2,124.9 L1314.8,122.1 L1324.5,119.3 L1334.1,116.6 L1343.8,113.9 L1353.4,111.2 L1363.0,108.6 L1372.7,106.1 L1382.3,103.5 L1392.0,101.0 L1401.6,98.5 L1411.2,96.1 L1420.9,93.7 L1430.5,91.3 L1440.2,89.0 L1449.8,86.6 L1459.4,84.3 L1469.1,82.1 L1478.7,79.8 L1488.4,77.6 L1498.0,75.4 L1507.6,73.3 L1517.3,71.1" stroke="#cbf44a"/>
<path d="M881.0,519.0 L890.6,404.2 L900.3,375.3 L909.9,355.2 L919.6,339.3 L929.2,326.0 L938.8,314.4 L948.5,304.1 L958.1,294.8 L967.8,286.2 L977.4,278.3 L987.0,270.9 L996.7,264.0 L1006.3,257.5 L1016.0,251.3 L1025.6,245.5 L1035.2,239.8 L1044.9,234.5 L1054.5,229.3 L1064.2,224.4 L1073.8,219.6 L1083.5,215.0 L1093.1,210.6 L1102.7,206.3 L1112.4,202.1 L1122.0,198.0 L1131.7,194.1 L1141.3,190.3 L1150.9,186.5 L1160.6,182.9 L1170.2,179.3 L1179.9,175.9 L1189.5,172.5 L1199.1,169.2 L1208.8,165.9 L1218.4,162.8 L1228.1,159.7 L1237.7,156.6 L1247.3,153.6 L1257.0,150.7 L1266.6,147.8 L1276.3,145.0 L1285.9,142.2 L1295.5,139.5 L1305.2,136.8 L1314.8,134.1 L1324.5,131.5 L1334.1,129.0 L1343.8,126.5 L1353.4,124.0 L1363.0,121.5 L1372.7,119.1 L1382.3,116.7 L1392.0,114.4 L1401.6,112.1 L1411.2,109.8 L1420.9,107.6 L1430.5,105.3 L1440.2,103.1 L1449.8,101.0 L1459.4,98.8 L1469.1,96.7 L1478.7,94.6 L1488.4,92.6 L1498.0,90.5 L1507.6,88.5 L1517.3,86.5" stroke="#caf04c"/>
<path d="M881.0,519.0 L890.6,405.4 L900.3,377.1 L909.9,357.5 L919.6,342.1 L929.2,329.2 L938.8,318.0 L948.5,308.1 L958.1,299.1 L967.8,290.9 L977.4,283.3 L987.0,276.2 L996.7,269.6 L1006.3,263.3 L1016.0,257.4 L1025.6,251.8 L1035.2,246.5 L1044.9,241.4 L1054.5,236.5 L1064.2,231.8 L1073.8,227.3 L1083.5,222.9 L1093.1,218.7 L1102.7,214.6 L1112.4,210.7 L1122.0,206.9 L1131.7,203.1 L1141.3,199.5 L1150.9,196.0 L1160.6,192.6 L1170.2,189.3 L1179.9,186.0 L1189.5,182.8 L1199.1,179.7 L1208.8,176.7 L1218.4,173.7 L1228.1,170.8 L1237.7,167.9 L1247.3,165.1 L1257.0,162.4 L1266.6,159.7 L1276.3,157.1 L1285.9,154.5 L1295.5,152.0 L1305.2,149.5 L1314.8,147.0 L1324.5,144.6 L1334.1,142.2 L1343.8,139.9 L1353.4,137.6 L1363.0,135.3 L1372.7,133.1 L1382.3,130.9 L1392.0,128.7 L1401.6,126.6 L1411.2,124.5 L1420.9,122.4 L1430.5,120.4 L1440.2,118.4 L1449.8,116.4 L1459.4,114.4 L1469.1,112.5 L1478.7,110.6 L1488.4,108.7 L1498.0,106.8 L1507.6,105.0 L1517.3,103.2" stroke="#c9ec4e"/>
<path d="M881.0,519.0 L890.6,406.6 L900.3,378.9 L909.9,359.9 L919.6,345.0 L929.2,332.5 L938.8,321.7 L948.5,312.2 L958.1,303.6 L967.8,295.7 L977.4,288.4 L987.0,281.7 L996.7,275.4 L1006.3,269.4 L1016.0,263.8 L1025.6,258.5 L1035.2,253.4 L1044.9,248.6 L1054.5,244.0 L1064.2,239.5 L1073.8,235.3 L1083.5,231.2 L1093.1,227.2 L1102.7,223.4 L1112.4,219.7 L1122.0,216.1 L1131.7,212.7 L1141.3,209.3 L1150.9,206.0 L1160.6,202.8 L1170.2,199.7 L1179.9,196.7 L1189.5,193.8 L1199.1,190.9 L1208.8,188.1 L1218.4,185.4 L1228.1,182.7 L1237.7,180.1 L1247.3,177.5 L1257.0,175.0 L1266.6,172.5 L1276.3,170.1 L1285.9,167.8 L1295.5,165.5 L1305.2,163.2 L1314.8,161.0 L1324.5,158.8 L1334.1,156.6 L1343.8,154.5 L1353.4,152.5 L1363.0,150.4 L1372.7,148.4 L1382.3,146.5 L1392.0,144.5 L1401.6,142.6 L1411.2,140.8 L1420.9,138.9 L1430.5,137.1 L1440.2,135.3 L1449.8,133.5 L1459.4,131.8 L1469.1,130.1 L1478.7,128.4 L1488.4,126.8 L1498.0,125.1 L1507.6,123.5 L1517.3,121.9" stroke="#c8e74f"/>
<path d="M881.0,519.0 L890.6,411.9 L900.3,387.2 L909.9,370.5 L919.6,357.7 L929.2,347.2 L938.8,338.3 L948.5,330.6 L958.1,323.8 L967.8,317.7 L977.4,312.3 L987.0,307.3 L996.7,302.8 L1006.3,298.6 L1016.0,294.8 L1025.6,291.2 L1035.2,288.0 L1044.9,284.9 L1054.5,282.1 L1064.2,279.4 L1073.8,276.9 L1083.5,274.6 L1093.1,272.4 L1102.7,270.3 L1112.4,268.4 L1122.0,266.6 L1131.7,264.8 L1141.3,263.2 L1150.9,261.6 L1160.6,260.2 L1170.2,258.8 L1179.9,257.4 L1189.5,256.2 L1199.1,255.0 L1208.8,253.8 L1218.4,252.7 L1228.1,251.7 L1237.7,250.7 L1247.3,249.7 L1257.0,248.8 L1266.6,247.9 L1276.3,247.1 L1285.9,246.3 L1295.5,245.5 L1305.2,244.8 L1314.8,244.1 L1324.5,243.4 L1334.1,242.7 L1343.8,242.1 L1353.4,241.5 L1363.0,240.9 L1372.7,240.3 L1382.3,239.8 L1392.0,239.2 L1401.6,238.7 L1411.2,238.2 L1420.9,237.7 L1430.5,237.3 L1440.2,236.8 L1449.8,236.4 L1459.4,236.0 L1469.1,235.5 L1478.7,235.2 L1488.4,234.8 L1498.0,234.4 L1507.6,234.0 L1517.3,233.7" stroke="#c6cd60"/>
<path d="M881.0,519.0 L890.6,416.6 L900.3,394.6 L909.9,380.6 L919.6,370.4 L929.2,362.7 L938.8,356.6 L948.5,351.7 L958.1,347.7 L967.8,344.3 L977.4,341.5 L987.0,339.2 L996.7,337.1 L1006.3,335.4 L1016.0,333.9 L1025.6,332.5 L1035.2,331.4 L1044.9,330.3 L1054.5,329.4 L1064.2,328.6 L1073.8,327.8 L1083.5,327.1 L1093.1,326.5 L1102.7,326.0 L1112.4,325.4 L1122.0,325.0 L1131.7,324.5 L1141.3,324.1 L1150.9,323.8 L1160.6,323.4 L1170.2,323.1 L1179.9,322.8 L1189.5,322.6 L1199.1,322.3 L1208.8,322.0 L1218.4,321.8 L1228.1,321.6 L1237.7,321.4 L1247.3,321.2 L1257.0,321.0 L1266.6,320.9 L1276.3,320.7 L1285.9,320.6 L1295.5,320.4 L1305.2,320.3 L1314.8,320.1 L1324.5,320.0 L1334.1,319.9 L1343.8,319.8 L1353.4,319.7 L1363.0,319.6 L1372.7,319.5 L1382.3,319.4 L1392.0,319.3 L1401.6,319.2 L1411.2,319.1 L1420.9,319.0 L1430.5,318.9 L1440.2,318.9 L1449.8,318.8 L1459.4,318.7 L1469.1,318.6 L1478.7,318.6 L1488.4,318.5 L1498.0,318.5 L1507.6,318.4 L1517.3,318.3" stroke="#c1b76b"/>
<path d="M881.0,519.0 L890.6,421.4 L900.3,403.1 L909.9,393.0 L919.6,386.8 L929.2,382.7 L938.8,379.9 L948.5,377.9 L958.1,376.3 L967.8,375.2 L977.4,374.2 L987.0,373.5 L996.7,372.9 L1006.3,372.4 L1016.0,371.9 L1025.6,371.6 L1035.2,371.3 L1044.9,371.0 L1054.5,370.7 L1064.2,370.5 L1073.8,370.3 L1083.5,370.2 L1093.1,370.0 L1102.7,369.9 L1112.4,369.7 L1122.0,369.6 L1131.7,369.5 L1141.3,369.4 L1150.9,369.3 L1160.6,369.3 L1170.2,369.2 L1179.9,369.1 L1189.5,369.1 L1199.1,369.0 L1208.8,368.9 L1218.4,368.9 L1228.1,368.8 L1237.7,368.8 L1247.3,368.7 L1257.0,368.7 L1266.6,368.7 L1276.3,368.6 L1285.9,368.6 L1295.5,368.5 L1305.2,368.5 L1314.8,368.5 L1324.5,368.5 L1334.1,368.4 L1343.8,368.4 L1353.4,368.4 L1363.0,368.3 L1372.7,368.3 L1382.3,368.3 L1392.0,368.3 L1401.6,368.3 L1411.2,368.2 L1420.9,368.2 L1430.5,368.2 L1440.2,368.2 L1449.8,368.2 L1459.4,368.1 L1469.1,368.1 L1478.7,368.1 L1488.4,368.1 L1498.0,368.1 L1507.6,368.1 L1517.3,368.1" stroke="#bca16c"/>
<path d="M881.0,519.0 L890.6,426.6 L900.3,413.3 L909.9,407.7 L919.6,404.8 L929.2,403.1 L938.8,402.1 L948.5,401.4 L958.1,400.8 L967.8,400.4 L977.4,400.1 L987.0,399.9 L996.7,399.7 L1006.3,399.5 L1016.0,399.4 L1025.6,399.3 L1035.2,399.2 L1044.9,399.1 L1054.5,399.0 L1064.2,398.9 L1073.8,398.9 L1083.5,398.8 L1093.1,398.8 L1102.7,398.7 L1112.4,398.7 L1122.0,398.7 L1131.7,398.6 L1141.3,398.6 L1150.9,398.6 L1160.6,398.5 L1170.2,398.5 L1179.9,398.5 L1189.5,398.5 L1199.1,398.5 L1208.8,398.4 L1218.4,398.4 L1228.1,398.4 L1237.7,398.4 L1247.3,398.4 L1257.0,398.4 L1266.6,398.4 L1276.3,398.3 L1285.9,398.3 L1295.5,398.3 L1305.2,398.3 L1314.8,398.3 L1324.5,398.3 L1334.1,398.3 L1343.8,398.3 L1353.4,398.3 L1363.0,398.3 L1372.7,398.2 L1382.3,398.2 L1392.0,398.2 L1401.6,398.2 L1411.2,398.2 L1420.9,398.2 L1430.5,398.2 L1440.2,398.2 L1449.8,398.2 L1459.4,398.2 L1469.1,398.2 L1478.7,398.2 L1488.4,398.2 L1498.0,398.2 L1507.6,398.2 L1517.3,398.2" stroke="#b28a6c"/>
<path d="M881.0,519.0 L890.6,433.0 L900.3,425.1 L909.9,422.5 L919.6,421.4 L929.2,420.7 L938.8,420.3 L948.5,420.1 L958.1,419.9 L967.8,419.7 L977.4,419.6 L987.0,419.5 L996.7,419.5 L1006.3,419.4 L1016.0,419.3 L1025.6,419.3 L1035.2,419.3 L1044.9,419.2 L1054.5,419.2 L1064.2,419.2 L1073.8,419.2 L1083.5,419.1 L1093.1,419.1 L1102.7,419.1 L1112.4,419.1 L1122.0,419.1 L1131.7,419.1 L1141.3,419.0 L1150.9,419.0 L1160.6,419.0 L1170.2,419.0 L1179.9,419.0 L1189.5,419.0 L1199.1,419.0 L1208.8,419.0 L1218.4,419.0 L1228.1,419.0 L1237.7,419.0 L1247.3,419.0 L1257.0,419.0 L1266.6,419.0 L1276.3,418.9 L1285.9,418.9 L1295.5,418.9 L1305.2,418.9 L1314.8,418.9 L1324.5,418.9 L1334.1,418.9 L1343.8,418.9 L1353.4,418.9 L1363.0,418.9 L1372.7,418.9 L1382.3,418.9 L1392.0,418.9 L1401.6,418.9 L1411.2,418.9 L1420.9,418.9 L1430.5,418.9 L1440.2,418.9 L1449.8,418.9 L1459.4,418.9 L1469.1,418.9 L1478.7,418.9 L1488.4,418.9 L1498.0,418.9 L1507.6,418.9 L1517.3,418.9" stroke="#99756b"/>
<path d="M881.0,519.0 L890.6,439.9 L900.3,435.6 L909.9,434.4 L919.6,433.9 L929.2,433.6 L938.8,433.5 L948.5,433.4 L958.1,433.3 L967.8,433.2 L977.4,433.2 L987.0,433.1 L996.7,433.1 L1006.3,433.1 L1016.0,433.0 L1025.6,433.0 L1035.2,433.0 L1044.9,433.0 L1054.5,433.0 L1064.2,433.0 L1073.8,432.9 L1083.5,432.9 L1093.1,432.9 L1102.7,432.9 L1112.4,432.9 L1122.0,432.9 L1131.7,432.9 L1141.3,432.9 L1150.9,432.9 L1160.6,432.9 L1170.2,432.9 L1179.9,432.9 L1189.5,432.9 L1199.1,432.9 L1208.8,432.9 L1218.4,432.9 L1228.1,432.9 L1237.7,432.9 L1247.3,432.9 L1257.0,432.9 L1266.6,432.8 L1276.3,432.8 L1285.9,432.8 L1295.5,432.8 L1305.2,432.8 L1314.8,432.8 L1324.5,432.8 L1334.1,432.8 L1343.8,432.8 L1353.4,432.8 L1363.0,432.8 L1372.7,432.8 L1382.3,432.8 L1392.0,432.8 L1401.6,432.8 L1411.2,432.8 L1420.9,432.8 L1430.5,432.8 L1440.2,432.8 L1449.8,432.8 L1459.4,432.8 L1469.1,432.8 L1478.7,432.8 L1488.4,432.8 L1498.0,432.8 L1507.6,432.8 L1517.3,432.8" stroke="#845e67"/>
<path d="M881.0,519.0 L890.6,446.9 L900.3,444.6 L909.9,444.1 L919.6,443.8 L929.2,443.7 L938.8,443.6 L948.5,443.5 L958.1,443.5 L967.8,443.5 L977.4,443.4 L987.0,443.4 L996.7,443.4 L1006.3,443.4 L1016.0,443.4 L1025.6,443.4 L1035.2,443.3 L1044.9,443.3 L1054.5,443.3 L1064.2,443.3 L1073.8,443.3 L1083.5,443.3 L1093.1,443.3 L1102.7,443.3 L1112.4,443.3 L1122.0,443.3 L1131.7,443.3 L1141.3,443.3 L1150.9,443.3 L1160.6,443.3 L1170.2,443.3 L1179.9,443.3 L1189.5,443.3 L1199.1,443.3 L1208.8,443.3 L1218.4,443.3 L1228.1,443.3 L1237.7,443.3 L1247.3,443.3 L1257.0,443.3 L1266.6,443.3 L1276.3,443.3 L1285.9,443.3 L1295.5,443.3 L1305.2,443.3 L1314.8,443.3 L1324.5,443.3 L1334.1,443.3 L1343.8,443.3 L1353.4,443.3 L1363.0,443.3 L1372.7,443.3 L1382.3,443.3 L1392.0,443.3 L1401.6,443.3 L1411.2,443.3 L1420.9,443.3 L1430.5,443.3 L1440.2,443.3 L1449.8,443.3 L1459.4,443.3 L1469.1,443.3 L1478.7,443.3 L1488.4,443.3 L1498.0,443.3 L1507.6,443.3 L1517.3,443.3" stroke="#6b475e"/>
<path d="M881.0,519.0 L890.6,453.5 L900.3,452.3 L909.9,452.0 L919.6,451.9 L929.2,451.8 L938.8,451.8 L948.5,451.8 L958.1,451.8 L967.8,451.7 L977.4,451.7 L987.0,451.7 L996.7,451.7 L1006.3,451.7 L1016.0,451.7 L1025.6,451.7 L1035.2,451.7 L1044.9,451.7 L1054.5,451.7 L1064.2,451.7 L1073.8,451.7 L1083.5,451.7 L1093.1,451.7 L1102.7,451.7 L1112.4,451.7 L1122.0,451.7 L1131.7,451.6 L1141.3,451.6 L1150.9,451.6 L1160.6,451.6 L1170.2,451.6 L1179.9,451.6 L1189.5,451.6 L1199.1,451.6 L1208.8,451.6 L1218.4,451.6 L1228.1,451.6 L1237.7,451.6 L1247.3,451.6 L1257.0,451.6 L1266.6,451.6 L1276.3,451.6 L1285.9,451.6 L1295.5,451.6 L1305.2,451.6 L1314.8,451.6 L1324.5,451.6 L1334.1,451.6 L1343.8,451.6 L1353.4,451.6 L1363.0,451.6 L1372.7,451.6 L1382.3,451.6 L1392.0,451.6 L1401.6,451.6 L1411.2,451.6 L1420.9,451.6 L1430.5,451.6 L1440.2,451.6 L1449.8,451.6 L1459.4,451.6 L1469.1,451.6 L1478.7,451.6 L1488.4,451.6 L1498.0,451.6 L1507.6,451.6 L1517.3,451.6" stroke="#563154"/>
<path d="M881.0,519.0 L890.6,459.3 L900.3,458.7 L909.9,458.5 L919.6,458.5 L929.2,458.4 L938.8,458.4 L948.5,458.4 L958.1,458.4 L967.8,458.3 L977.4,458.3 L987.0,458.3 L996.7,458.3 L1006.3,458.3 L1016.0,458.3 L1025.6,458.3 L1035.2,458.3 L1044.9,458.3 L1054.5,458.3 L1064.2,458.3 L1073.8,458.3 L1083.5,458.3 L1093.1,458.3 L1102.7,458.3 L1112.4,458.3 L1122.0,458.3 L1131.7,458.3 L1141.3,458.3 L1150.9,458.3 L1160.6,458.3 L1170.2,458.3 L1179.9,458.3 L1189.5,458.3 L1199.1,458.3 L1208.8,458.3 L1218.4,458.3 L1228.1,458.3 L1237.7,458.3 L1247.3,458.3 L1257.0,458.3 L1266.6,458.3 L1276.3,458.3 L1285.9,458.3 L1295.5,458.3 L1305.2,458.3 L1314.8,458.3 L1324.5,458.3 L1334.1,458.3 L1343.8,458.3 L1353.4,458.3 L1363.0,458.3 L1372.7,458.3 L1382.3,458.3 L1392.0,458.3 L1401.6,458.3 L1411.2,458.3 L1420.9,458.3 L1430.5,458.3 L1440.2,458.3 L1449.8,458.3 L1459.4,458.3 L1469.1,458.3 L1478.7,458.3 L1488.4,458.3 L1498.0,458.3 L1507.6,458.3 L1517.3,458.3" stroke="#461c4a"/>
</g>
<g clip-path="url(#ca)" stroke="#222" stroke-width="0.9">
<circle cx="218.4" cy="182.5" r="5.80" fill="#461c4a"/>
<circle cx="218.4" cy="180.3" r="5.80" fill="#461c4a"/>
<circle cx="218.4" cy="192.3" r="5.80" fill="#461c4a"/>
<circle cx="218.3" cy="325.0" r="5.80" fill="#ccfa48"/>
<circle cx="218.3" cy="357.4" r="5.80" fill="#ccfa48"/>
<circle cx="218.3" cy="386.5" r="5.80" fill="#ccfa48"/>
<circle cx="254.3" cy="235.3" r="5.80" fill="#a7816c"/>
<circle cx="254.3" cy="239.4" r="5.80" fill="#613d59"/>
<circle cx="254.3" cy="264.9" r="5.80" fill="#b8966c"/>
<circle cx="254.3" cy="370.6" r="5.80" fill="#ccfa48"/>
<circle cx="254.3" cy="363.6" r="5.80" fill="#ccfa48"/>
<circle cx="308.3" cy="288.3" r="5.80" fill="#b38b6c"/>
<circle cx="308.3" cy="282.6" r="5.80" fill="#461c4a"/>
<circle cx="308.4" cy="348.9" r="5.80" fill="#caf24b"/>
<circle cx="308.4" cy="335.6" r="5.80" fill="#c7d75a"/>
<circle cx="308.4" cy="343.4" r="5.80" fill="#c6d25d"/>
<circle cx="308.3" cy="401.7" r="5.80" fill="#ccfa48"/>
<circle cx="323.1" cy="277.0" r="5.80" fill="#461c4a"/>
<circle cx="323.1" cy="321.9" r="5.80" fill="#9b776b"/>
<circle cx="323.3" cy="425.6" r="5.80" fill="#caf04c"/>
<circle cx="323.3" cy="420.0" r="5.80" fill="#caf04c"/>
<circle cx="323.3" cy="404.0" r="5.80" fill="#caf04c"/>
<circle cx="323.3" cy="400.5" r="5.80" fill="#caee4d"/>
<circle cx="323.3" cy="389.0" r="5.80" fill="#c8e650"/>
<circle cx="323.3" cy="392.0" r="5.80" fill="#c8e650"/>
<circle cx="323.3" cy="396.1" r="5.80" fill="#c9ea4e"/>
<circle cx="323.3" cy="384.0" r="5.80" fill="#c8e650"/>
<circle cx="323.3" cy="380.5" r="5.80" fill="#c8e153"/>
<circle cx="323.3" cy="375.7" r="5.80" fill="#c5c962"/>
<circle cx="323.3" cy="368.5" r="5.80" fill="#c7da58"/>
<circle cx="323.3" cy="365.5" r="5.80" fill="#c8e153"/>
<circle cx="323.3" cy="359.3" r="5.80" fill="#beaa6c"/>
<circle cx="361.5" cy="382.3" r="5.80" fill="#c6cd60"/>
<circle cx="361.5" cy="410.2" r="5.80" fill="#caf04c"/>
<circle cx="361.5" cy="422.3" r="5.80" fill="#c6cd60"/>
<circle cx="361.5" cy="433.7" r="5.80" fill="#ccfa48"/>
<circle cx="443.0" cy="462.0" r="5.80" fill="#ccfa48"/>
<circle cx="443.0" cy="449.8" r="5.80" fill="#caf04c"/>
<circle cx="443.0" cy="447.2" r="5.80" fill="#c8e650"/>
<circle cx="443.0" cy="440.0" r="5.80" fill="#c8e153"/>
<circle cx="485.0" cy="448.9" r="5.80" fill="#caf04c"/>
<circle cx="485.0" cy="444.6" r="5.80" fill="#c7da58"/>
<circle cx="485.0" cy="441.4" r="5.80" fill="#c6cd60"/>
<circle cx="495.2" cy="428.7" r="5.80" fill="#c6cd60"/>
<circle cx="504.9" cy="447.2" r="5.80" fill="#caf04c"/>
<circle cx="504.9" cy="441.4" r="5.80" fill="#caf04c"/>
<circle cx="521.0" cy="428.7" r="5.80" fill="#c6cd60"/>
<circle cx="521.0" cy="458.4" r="5.80" fill="#caf04c"/>
<circle cx="546.6" cy="422.6" r="5.80" fill="#c7da58"/>
<circle cx="546.6" cy="452.0" r="5.80" fill="#caf04c"/>
<circle cx="658.1" cy="458.6" r="5.80" fill="#ccfa48"/>
<circle cx="658.1" cy="452.8" r="5.80" fill="#ccfa48"/>
<circle cx="686.5" cy="459.6" r="5.80" fill="#ccfa48"/>
<circle cx="689.4" cy="458.6" r="5.80" fill="#ccfa48"/>
<circle cx="694.9" cy="460.8" r="5.80" fill="#ccfa48"/>
<circle cx="687.5" cy="463.4" r="5.80" fill="#ccfa48"/>
<circle cx="708.5" cy="464.7" r="5.80" fill="#ccfa48"/>
</g>
<g clip-path="url(#cb)" stroke="#222" stroke-width="0.9">
<circle cx="919.0" cy="325.6" r="5.80" fill="#ccfa48"/>
<circle cx="898.8" cy="357.3" r="5.80" fill="#ccfa48"/>
<circle cx="899.5" cy="363.8" r="5.80" fill="#ccfa48"/>
<circle cx="896.2" cy="370.8" r="5.80" fill="#ccfa48"/>
<circle cx="892.3" cy="387.1" r="5.80" fill="#ccfa48"/>
<circle cx="942.7" cy="349.3" r="5.80" fill="#ccfa48"/>
<circle cx="933.3" cy="381.0" r="5.80" fill="#ccfa48"/>
<circle cx="950.7" cy="378.4" r="5.80" fill="#ccfa48"/>
<circle cx="931.1" cy="391.0" r="5.80" fill="#ccfa48"/>
<circle cx="903.9" cy="394.8" r="5.80" fill="#ccfa48"/>
<circle cx="893.0" cy="402.3" r="5.80" fill="#ccfa48"/>
<circle cx="908.3" cy="405.5" r="5.80" fill="#ccfa48"/>
<circle cx="902.0" cy="410.5" r="5.80" fill="#ccfa48"/>
<circle cx="924.3" cy="403.6" r="5.80" fill="#ccfa48"/>
<circle cx="946.7" cy="401.1" r="5.80" fill="#ccfa48"/>
<circle cx="954.4" cy="394.5" r="5.80" fill="#ccfa48"/>
<circle cx="888.9" cy="430.9" r="5.80" fill="#ccfa48"/>
<circle cx="890.8" cy="424.4" r="5.80" fill="#ccfa48"/>
<circle cx="901.6" cy="421.2" r="5.80" fill="#ccfa48"/>
<circle cx="887.5" cy="435.0" r="5.80" fill="#ccfa48"/>
<circle cx="928.2" cy="429.5" r="5.80" fill="#c8e650"/>
<circle cx="951.5" cy="429.5" r="5.80" fill="#c8e650"/>
<circle cx="887.0" cy="450.3" r="5.80" fill="#ccfa48"/>
<circle cx="899.8" cy="446.6" r="5.80" fill="#c8e650"/>
<circle cx="918.4" cy="441.8" r="5.80" fill="#c8e650"/>
<circle cx="912.9" cy="446.2" r="5.80" fill="#c8e650"/>
<circle cx="933.0" cy="447.2" r="5.80" fill="#ccfa48"/>
<circle cx="907.1" cy="448.4" r="5.80" fill="#c6cd60"/>
<circle cx="901.3" cy="452.0" r="5.80" fill="#b38b6c"/>
<circle cx="917.0" cy="454.2" r="5.80" fill="#a7816c"/>
<circle cx="904.9" cy="464.4" r="5.80" fill="#906b6a"/>
<circle cx="902.7" cy="459.7" r="5.80" fill="#795463"/>
<circle cx="891.8" cy="460.0" r="5.80" fill="#6c485e"/>
<circle cx="890.4" cy="465.1" r="5.80" fill="#461c4a"/>
<circle cx="990.4" cy="335.9" r="5.80" fill="#ccfa48"/>
<circle cx="1004.5" cy="343.9" r="5.80" fill="#ccfa48"/>
<circle cx="1004.5" cy="367.4" r="5.80" fill="#ccfa48"/>
<circle cx="1008.1" cy="382.6" r="5.80" fill="#ccfa48"/>
<circle cx="1043.2" cy="376.1" r="5.80" fill="#ccfa48"/>
<circle cx="963.3" cy="396.7" r="5.80" fill="#ccfa48"/>
<circle cx="967.4" cy="422.6" r="5.80" fill="#ccfa48"/>
<circle cx="989.5" cy="422.6" r="5.80" fill="#c7da58"/>
<circle cx="991.9" cy="429.9" r="5.80" fill="#ccfa48"/>
<circle cx="1010.0" cy="429.1" r="5.80" fill="#ccfa48"/>
<circle cx="979.0" cy="440.7" r="5.80" fill="#ccfa48"/>
<circle cx="985.1" cy="443.7" r="5.80" fill="#ccfa48"/>
<circle cx="1021.9" cy="442.0" r="5.80" fill="#ccfa48"/>
<circle cx="1058.6" cy="361.5" r="5.80" fill="#ccfa48"/>
<circle cx="1114.9" cy="360.0" r="5.80" fill="#ccfa48"/>
<circle cx="1164.8" cy="264.6" r="5.80" fill="#ccfa48"/>
<circle cx="1235.9" cy="235.6" r="5.80" fill="#ccfa48"/>
<circle cx="1225.2" cy="288.3" r="5.80" fill="#ccfa48"/>
<circle cx="1238.2" cy="322.9" r="5.80" fill="#ccfa48"/>
<circle cx="1410.4" cy="239.2" r="5.80" fill="#ccfa48"/>
<circle cx="1427.9" cy="182.6" r="5.80" fill="#ccfa48"/>
<circle cx="1490.9" cy="192.3" r="5.80" fill="#ccfa48"/>
<circle cx="1480.6" cy="277.7" r="5.80" fill="#ccfa48"/>
<circle cx="1498.4" cy="282.5" r="5.80" fill="#ccfa48"/>
</g>
<g stroke="#000" stroke-width="2" fill="none">
<rect x="95" y="19" width="615" height="500"/>
<path d="M95 119 H103.5 M710 119 H701.5"/>
<path d="M95 319 H103.5 M710 319 H701.5"/>
<path d="M300 19 V27.5 M300 519 V510.5"/>
<path d="M505 19 V27.5 M505 519 V510.5"/>
</g>
<g stroke="#000" stroke-width="2" fill="none">
<rect x="881" y="19" width="617" height="500"/>
<path d="M881 119 H889.5 M1498 119 H1489.5"/>
<path d="M881 319 H889.5 M1498 319 H1489.5"/>
<path d="M1074 19 V27.5 M1074 519 V510.5"/>
<path d="M1267 19 V27.5 M1267 519 V510.5"/>
<path d="M1460 19 V27.5 M1460 519 V510.5"/>
</g>
<rect x="434.15" y="76.45" width="247.6" height="15.4" fill="url(#gr)" stroke="#1a1a1a" stroke-width="1.5"/>
<rect x="923.45" y="85.75" width="248.5" height="15.8" fill="url(#gr)" stroke="#1a1a1a" stroke-width="1.5"/>
<g style="filter:grayscale(1)">
<text fill="#1a1a1a" x="-4.10" y="35.20" font-size="49" font-weight="bold" text-anchor="start">a</text>
<text fill="#1a1a1a" x="782.20" y="35.50" font-size="49" font-weight="bold" text-anchor="start">b</text>
<g transform="translate(65.80,546.60)"><text x="0.000" y="0.000" font-size="23.5">0.00</text><path transform="translate(45.731,0.000) scale(0.011475,-0.011475)" d="M763 0L583 0L583 1147C540 1106 483 1065 413 1024C343 983 280 952 223 931L223 1105C324 1152 412 1210 487 1277C562 1344 615 1409 646 1466L763 1466Z"/></g>
<g transform="translate(277.00,546.50)"><text x="0.000" y="0.000" font-size="23.5">0.0</text><path transform="translate(32.665,0.000) scale(0.011475,-0.011475)" d="M763 0L583 0L583 1147C540 1106 483 1065 413 1024C343 983 280 952 223 931L223 1105C324 1152 412 1210 487 1277C562 1344 615 1409 646 1466L763 1466Z"/></g>
<g transform="translate(488.90,546.80)"><text x="0.000" y="0.000" font-size="23.5">0.</text><path transform="translate(19.599,0.000) scale(0.011475,-0.011475)" d="M763 0L583 0L583 1147C540 1106 483 1065 413 1024C343 983 280 952 223 931L223 1105C324 1152 412 1210 487 1277C562 1344 615 1409 646 1466L763 1466Z"/></g>
<g transform="translate(703.70,546.80)"><path transform="translate(0.000,0.000) scale(0.011475,-0.011475)" d="M763 0L583 0L583 1147C540 1106 483 1065 413 1024C343 983 280 952 223 931L223 1105C324 1152 412 1210 487 1277C562 1344 615 1409 646 1466L763 1466Z"/></g>
<g transform="translate(875.00,547.10)"><text x="0.000" y="0.000" font-size="23.5">0</text></g>
<g transform="translate(1038.20,547.10)"><path transform="translate(0.000,0.000) scale(0.011475,-0.011475)" d="M763 0L583 0L583 1147C540 1106 483 1065 413 1024C343 983 280 952 223 931L223 1105C324 1152 412 1210 487 1277C562 1344 615 1409 646 1466L763 1466Z"/><text x="13.066" y="0.000" font-size="23.5">0 000</text></g>
<g transform="translate(1230.70,547.30)"><text x="0.000" y="0.000" font-size="23.5">20 000</text></g>
<g transform="translate(1424.00,547.30)"><text x="0.000" y="0.000" font-size="23.5">30 000</text></g>
<g transform="translate(59.60,125.90)"><text x="0.000" y="0.000" font-size="23.5">20</text></g>
<g transform="translate(59.90,325.90)"><path transform="translate(0.000,0.000) scale(0.011475,-0.011475)" d="M763 0L583 0L583 1147C540 1106 483 1065 413 1024C343 983 280 952 223 931L223 1105C324 1152 412 1210 487 1277C562 1344 615 1409 646 1466L763 1466Z"/><text x="13.066" y="0.000" font-size="23.5">0</text></g>
<g transform="translate(72.40,525.60)"><text x="0.000" y="0.000" font-size="23.5">0</text></g>
<g transform="translate(846.05,125.50)"><text x="0.000" y="0.000" font-size="23.5">20</text></g>
<g transform="translate(846.30,325.70)"><path transform="translate(0.000,0.000) scale(0.011475,-0.011475)" d="M763 0L583 0L583 1147C540 1106 483 1065 413 1024C343 983 280 952 223 931L223 1105C324 1152 412 1210 487 1277C562 1344 615 1409 646 1466L763 1466Z"/><text x="13.066" y="0.000" font-size="23.5">0</text></g>
<g transform="translate(858.80,525.50)"><text x="0.000" y="0.000" font-size="23.5">0</text></g>
<g transform="translate(433.50,122.60)"><text x="0.000" y="0.000" font-size="25.6">0.25 x </text><path transform="translate(76.851,0.000) scale(0.012500,-0.012500)" d="M763 0L583 0L583 1147C540 1106 483 1065 413 1024C343 983 280 952 223 931L223 1105C324 1152 412 1210 487 1277C562 1344 615 1409 646 1466L763 1466Z"/><text x="91.085" y="0.000" font-size="25.6">0</text><text x="105.318" y="-11.000" font-size="16.8">3</text></g>
<g transform="translate(589.00,122.60)"><text x="0.000" y="0.000" font-size="25.6">32 x </text><path transform="translate(55.501,0.000) scale(0.012500,-0.012500)" d="M763 0L583 0L583 1147C540 1106 483 1065 413 1024C343 983 280 952 223 931L223 1105C324 1152 412 1210 487 1277C562 1344 615 1409 646 1466L763 1466Z"/><text x="69.734" y="0.000" font-size="25.6">0</text><text x="83.968" y="-11.000" font-size="16.8">3</text></g>
<g transform="translate(922.80,132.40)"><text x="0.000" y="0.000" font-size="26">0.00</text><path transform="translate(50.596,0.000) scale(0.012695,-0.012695)" d="M763 0L583 0L583 1147C540 1106 483 1065 413 1024C343 983 280 952 223 931L223 1105C324 1152 412 1210 487 1277C562 1344 615 1409 646 1466L763 1466Z"/></g>
<g transform="translate(1155.20,132.40)"><path transform="translate(0.000,0.000) scale(0.012695,-0.012695)" d="M763 0L583 0L583 1147C540 1106 483 1065 413 1024C343 983 280 952 223 931L223 1105C324 1152 412 1210 487 1277C562 1344 615 1409 646 1466L763 1466Z"/></g>
<text x="514.00" y="61.00" font-size="25" font-style="italic" text-anchor="start">V</text>
<text x="537.00" y="61.30" font-size="25" text-anchor="start">(</text>
<text x="545.30" y="61.30" font-size="25" style='font-family:"Liberation Serif",serif' text-anchor="start">µ</text>
<text x="558.30" y="61.00" font-size="25" text-anchor="start">m</text>
<text x="580.00" y="51.00" font-size="16.5" text-anchor="start">3</text>
<text x="591.00" y="61.30" font-size="25" text-anchor="start">)</text>
<g transform="translate(1013.30,73.00) skewX(-12)"><text x="0" y="0" font-size="27" style='font-family:"Liberation Serif",serif' font-style="italic" stroke="#000" stroke-width="0.4">&#949;</text></g>
<text x="1041.20" y="74.10" font-size="25" text-anchor="start">(</text>
<text x="1049.00" y="74.00" font-size="25" text-anchor="start">s</text>
<text x="1060.70" y="63.70" font-size="17" text-anchor="start">-</text>
<g transform="translate(1066.90,63.20)"><path transform="translate(0.000,0.000) scale(0.008301,-0.008301)" d="M763 0L583 0L583 1147C540 1106 483 1065 413 1024C343 983 280 952 223 931L223 1105C324 1152 412 1210 487 1277C562 1344 615 1409 646 1466L763 1466Z"/></g>
<text x="1077.60" y="74.10" font-size="25" text-anchor="start">)</text>
<g transform="translate(357.10,609.50) skewX(-12)"><text x="0" y="0" font-size="40.5" style='font-family:"Liberation Serif",serif' font-style="italic" stroke="#000" stroke-width="0.5">&#949;</text></g>
<text x="399.00" y="612.90" font-size="40" text-anchor="start">(</text>
<text x="411.90" y="610.50" font-size="40" text-anchor="start">s</text>
<text x="431.90" y="592.30" font-size="28.5" text-anchor="start">-</text>
<g transform="translate(441.90,593.40)"><path transform="translate(0.000,0.000) scale(0.013916,-0.013916)" d="M763 0L583 0L583 1147C540 1106 483 1065 413 1024C343 983 280 952 223 931L223 1105C324 1152 412 1210 487 1277C562 1344 615 1409 646 1466L763 1466Z"/></g>
<text x="458.60" y="614.30" font-size="40" text-anchor="start">)</text>
<text x="1120.60" y="609.80" font-size="41" font-style="italic" text-anchor="start">V</text>
<text x="1158.00" y="610.80" font-size="29" text-anchor="start">(</text>
<text x="1169.80" y="608.60" font-size="38" style='font-family:"Liberation Serif",serif' text-anchor="start">µ</text>
<text x="1192.80" y="609.80" font-size="38" text-anchor="start">m</text>
<text x="1226.90" y="592.20" font-size="28.5" text-anchor="start">3</text>
<text x="1244.00" y="610.80" font-size="29" text-anchor="start">)</text>
<circle cx="380.5" cy="585" r="2.4" fill="#000"/>
<circle cx="1029.3" cy="57.2" r="1.8" fill="#000"/>
<text x="0" y="0" transform="translate(30.30,303.20) rotate(-90)" font-size="42" font-style="italic" text-anchor="start">r</text>
<text x="0" y="0" transform="translate(29.40,279.00) rotate(-90)" font-size="42" text-anchor="start">(</text>
<text x="0" y="0" transform="translate(27.00,262.80) rotate(-90)" font-size="40" style='font-family:"Liberation Serif",serif' text-anchor="start">µ</text>
<text x="0" y="0" transform="translate(30.30,241.50) rotate(-90)" font-size="42" text-anchor="start">m</text>
<text x="0" y="0" transform="translate(29.40,205.00) rotate(-90)" font-size="42" text-anchor="start">)</text>
<text x="0" y="0" transform="translate(813.40,302.20) rotate(-90)" font-size="42" font-style="italic" text-anchor="start">r</text>
<text x="0" y="0" transform="translate(813.50,277.90) rotate(-90)" font-size="42" text-anchor="start">(</text>
<text x="0" y="0" transform="translate(811.20,262.80) rotate(-90)" font-size="40" style='font-family:"Liberation Serif",serif' text-anchor="start">µ</text>
<text x="0" y="0" transform="translate(813.40,241.50) rotate(-90)" font-size="42" text-anchor="start">m</text>
<text x="0" y="0" transform="translate(813.50,204.00) rotate(-90)" font-size="42" text-anchor="start">)</text>
</g>
</svg></body></html>
